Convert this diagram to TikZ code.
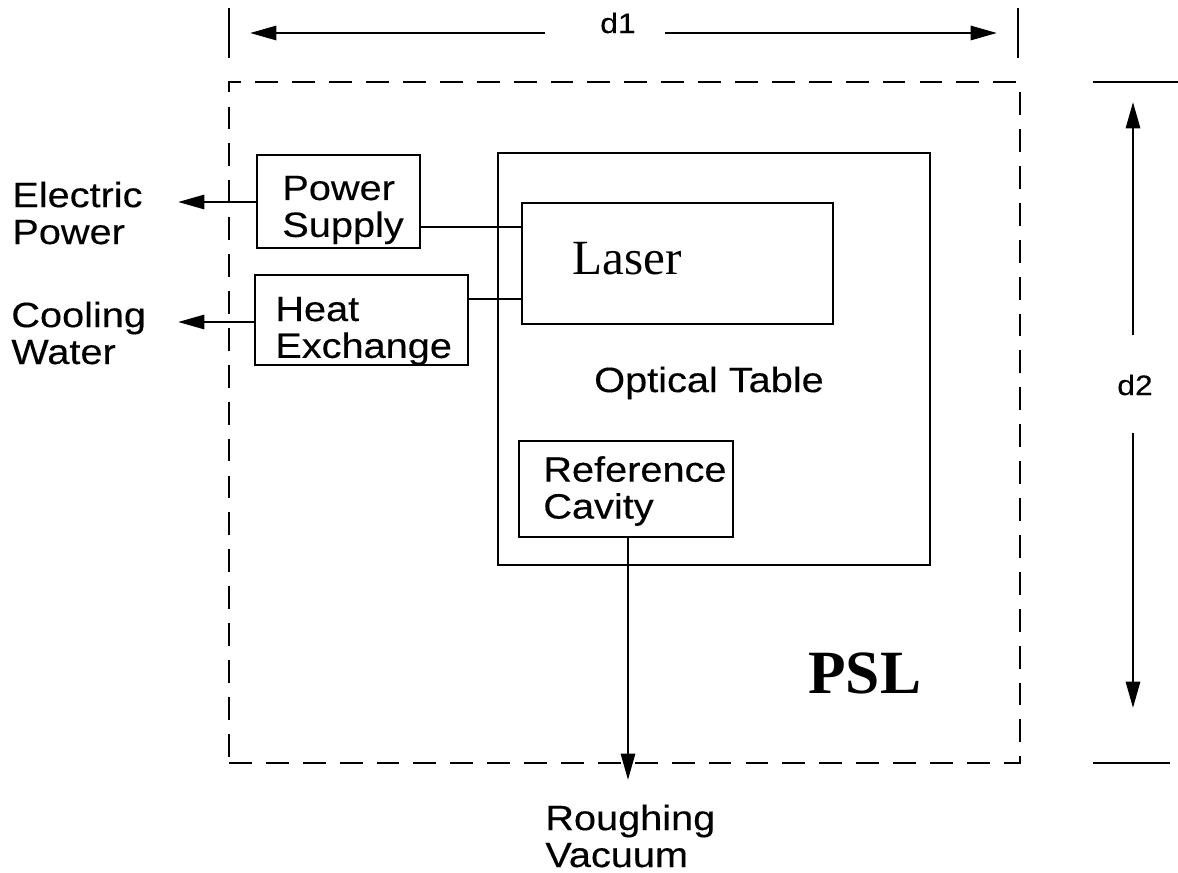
\documentclass[tikz,border=0pt]{standalone}
\usepackage{fontspec}
\setmainfont{Liberation Sans}[FakeStretch=1.13,FakeBold=0.3]
\newfontfamily\timesfont{Liberation Serif}
\usetikzlibrary{arrows.meta,positioning,fit}

\begin{document}
\begin{tikzpicture}[x=0.02cm,y=-0.02cm,
  box/.style={draw,line width=1.2pt,inner sep=0pt},
  lbl/.style={font=\fontsize{20}{21}\selectfont,align=left,inner sep=0pt},
  dimlbl/.style={font=\fontsize{16}{17}\selectfont,inner sep=0pt,anchor=base},
  flow/.style={line width=1.6pt,-{Triangle[length=15pt,width=8pt]}},
  dimline/.style={line width=1.6pt}]
  \useasboundingbox (0,0) rectangle (1178,873);

  % PSL enclosure
  \node[draw,line width=1.3pt,dash pattern=on 13pt off 8pt,inner sep=0pt,
        fit={(229,82) (1020,763)}] (psl) {};
  \node[font=\timesfont\bfseries\fontsize{35}{36}\selectfont,inner sep=0pt,
        anchor=base west] (psltxt) at (808,693) {PSL};

  % boxes
  \node[box,fit={(257,155) (420,248)}] (supply) {};
  \node[lbl,anchor=west] (supplytxt) at (282,210) {Power\\Supply};
  \node[box,fit={(255,275) (468,365)}] (heat) {};
  \node[lbl,anchor=west] (heattxt) at (275,331) {Heat\\Exchange};
  \node[box,fit={(498,153) (930,565)}] (table) {};
  \node[lbl] (tabletxt) at (709,383) {Optical Table};
  \node[box,fit={(522,203) (833,324)}] (laser) {};
  \node[font=\timesfont\fontsize{28}{30}\selectfont,inner sep=0pt,
        anchor=base west] (lasertxt) at (572,274) {Laser};
  \node[box,fit={(519,441) (733,537)}] (cavity) {};
  \node[lbl,anchor=west] (cavitytxt) at (543,491) {Reference\\Cavity};

  % outside labels
  \node[lbl,anchor=west] (elec) at (12,213) {Electric\\Power};
  \node[lbl,anchor=west] (cool) at (11,333) {Cooling\\Water};
  \node[lbl,anchor=west] (vac) at (545,836) {Roughing\\Vacuum};
  \coordinate (elecend) at (178,202);
  \coordinate (coolend) at (178,322);
  \coordinate (vacend) at (628,780);

  % connections
  \draw[line width=1.2pt] (supply.east |- 0,227) -- (laser.west |- 0,227);
  \draw[line width=1.2pt] (heat.east |- 0,299) -- (laser.west |- 0,299);
  \draw[flow] (supply.west |- elecend) -- (elecend);
  \draw[flow] (heat.west |- coolend) -- (coolend);
  \draw[flow] (cavity.south -| vacend) -- (vacend);

  % dimension d1
  \node[dimlbl] (d1) at (618,33) {d1};
  \draw[dimline] (229,8) -- (229,58);
  \draw[dimline] (1018,8) -- (1018,58);
  \draw[flow] (545,33) -- (250,33);
  \draw[flow] (665,33) -- (997,33);

  % dimension d2
  \node[dimlbl] (d2) at (1135,395) {d2};
  \draw[dimline] (1093,82) -- (1178,82);
  \draw[dimline] (1093,763) -- (1170,763);
  \draw[flow] (1133,335) -- (1133,102);
  \draw[flow] (1133,433) -- (1133,708);
\end{tikzpicture}
\end{document}
